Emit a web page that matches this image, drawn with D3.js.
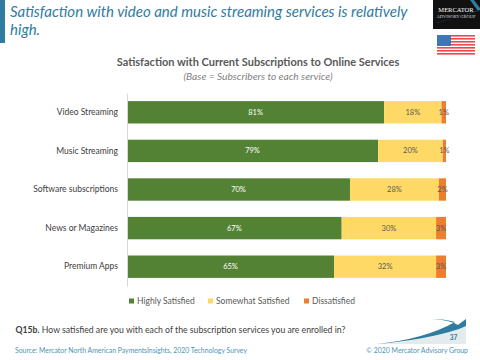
<!DOCTYPE html>
<html>
<head>
<meta charset="utf-8">
<script src="https://cdn.jsdelivr.net/npm/d3@7"></script>
<style>
    html, body { margin: 0; padding: 0; background: #fff; }
    svg { display: block; }
    text { font-family: Lato, "Open Sans", sans-serif; }
</style>
</head>
<body>
<div id="chart"></div>
<script>
const categories = ["Video Streaming", "Music Streaming", "Software subscriptions", "News or Magazines", "Premium Apps"];
const seriesNames = ["Highly Satisfied", "Somewhat Satisfied", "Dissatisfied"];
const highly = [80.6, 78.7, 69.9, 67.3, 64.9];
const somewhat = [18.0, 20.3, 27.9, 29.6, 32.0];
const dissatisfied = [1.4, 1.0, 2.2, 3.1, 3.1];
const colors = ["#548235", "#ffd966", "#ed7d31"];

const width = 480, height = 360;
const margin = { t: 93, l: 127, r: 34, b: 74 };

const svg = d3.select("#chart")
    .append("svg")
    .attr("width", width)
    .attr("height", height);

// slide header
svg.append("rect").attr("x", 0).attr("y", 0).attr("width", 5).attr("height", 43).attr("fill", "#2e7ca0");
svg.selectAll(".headline")
    .data(["Satisfaction with video and music streaming services is relatively", "high."])
    .join("text")
    .attr("class", "headline")
    .attr("x", 10)
    .attr("y", (d, i) => 17 + i * 18)
    .attr("font-size", 15)
    .attr("font-style", "italic")
    .attr("fill", "#2e7ca0")
    .text(d => d);

// chart titles
svg.append("text").attr("x", 258).attr("y", 66).attr("text-anchor", "middle")
    .attr("font-size", 11).attr("font-weight", 700).attr("fill", "#595959")
    .text("Satisfaction with Current Subscriptions to Online Services");
svg.append("text").attr("x", 258).attr("y", 80).attr("text-anchor", "middle")
    .attr("font-size", 10.2).attr("font-style", "italic").attr("fill", "#7f7f7f")
    .text("(Base = Subscribers to each service)");

// scales
const scaleX = d3.scaleLinear().domain([0, 100]).range([margin.l, width - margin.r]);
const scaleY = d3.scaleBand().domain(categories).range([margin.t, height - margin.b]).paddingInner(0.42).paddingOuter(0.21);

const rows = categories.map((c, i) => ({ c, vals: [highly[i], somewhat[i], dissatisfied[i]] }));
const stacked = seriesNames.map((name, s) => rows.map(r => {
    const x0 = d3.sum(r.vals.slice(0, s));
    return { c: r.c, x0, x1: x0 + r.vals[s], v: r.vals[s] };
}));

// bars
const groups = svg.selectAll(".series")
    .data(stacked)
    .join("g")
    .attr("class", "series")
    .attr("fill", (d, i) => colors[i]);

groups.selectAll("rect")
    .data(d => d)
    .join("rect")
    .attr("x", d => scaleX(d.x0))
    .attr("y", d => scaleY(d.c))
    .attr("width", d => scaleX(d.x1) - scaleX(d.x0))
    .attr("height", scaleY.bandwidth());

// value labels
groups.selectAll("text")
    .data(d => d)
    .join("text")
    .attr("x", d => scaleX((d.x0 + d.x1) / 2))
    .attr("y", d => scaleY(d.c) + scaleY.bandwidth() / 2 + 2.5)
    .attr("text-anchor", "middle")
    .attr("font-size", 7.5)
    .attr("fill", d => d.x0 === 0 ? "#fff" : "#595959")
    .text(d => `${Math.round(d.v)}%`);

// category axis
const axisY = d3.axisLeft(scaleY).tickSize(0).tickPadding(9);
const gAxis = svg.append("g")
    .attr("transform", `translate(${margin.l}, 0)`)
    .call(axisY);
gAxis.select(".domain").attr("stroke", "#d9d9d9");
gAxis.selectAll("text")
    .attr("font-size", 8.5)
    .attr("fill", "#404040")
    .style("font-family", "Lato, sans-serif");

// legend
const legendX = [129, 208, 304];
const legend = svg.selectAll(".legend")
    .data(seriesNames)
    .join("g")
    .attr("class", "legend")
    .attr("transform", (d, i) => `translate(${legendX[i]}, 298.5)`);
legend.append("rect").attr("width", 5).attr("height", 5).attr("fill", (d, i) => colors[i]);
legend.append("text").attr("x", 8).attr("y", 5.5).attr("font-size", 8.5).attr("fill", "#595959").text(d => d);

// question and footer
const question = svg.append("text").attr("x", 15.5).attr("y", 333).attr("font-size", 8.7).attr("fill", "#404040");
question.append("tspan").attr("font-weight", 700).text("Q15b.");
question.append("tspan").text(" How satisfied are you with each of the subscription services you are enrolled in?");
svg.append("text").attr("x", 15).attr("y", 353).attr("font-size", 6.85).attr("fill", "#4f93b5")
    .text("Source: Mercator North American PaymentsInsights, 2020 Technology Survey");
svg.append("text").attr("x", 468).attr("y", 353).attr("text-anchor", "end").attr("font-size", 6.9).attr("fill", "#4f93b5")
    .text("© 2020  Mercator Advisory Group");

// logo
svg.append("rect").attr("x", 433).attr("y", 0).attr("width", 47).attr("height", 29).attr("fill", "#111");
svg.append("path").attr("d", "M436 23 L478 11 L470 0 L474 0 L480 8 L480 10 L437 23 Z").attr("fill", "#2e7ca0");
svg.append("text").attr("x", 456).attr("y", 12).attr("text-anchor", "middle").attr("font-size", 6.5)
    .attr("fill", "#fff").style("font-family", "Liberation Serif").text("MERCATOR");
svg.append("text").attr("x", 456).attr("y", 17.5).attr("text-anchor", "middle").attr("font-size", 4.5)
    .attr("fill", "#ddd").style("font-family", "Liberation Serif").text("ADVISORY GROUP");

// flag
const stripes = d3.range(7);
svg.selectAll(".stripe")
    .data(stripes)
    .join("rect")
    .attr("class", "stripe")
    .attr("x", 437).attr("width", 38)
    .attr("y", d => 35 + d * 3)
    .attr("height", 1.6)
    .attr("fill", "#f0474f");
svg.append("rect").attr("x", 437).attr("y", 35).attr("width", 14).attr("height", 11).attr("fill", "#3f76b5");

// corner swoosh
svg.append("path").attr("d", "M377 344 Q430 342 466 319 L466 344 Z").attr("fill", "#e4ebef");
svg.append("path").attr("d", "M377 344 Q425 339 455 322 Q445 319 432 319 Q450 320 458 325 L466 319 L466 326 L459 329 Q425 340 377 344 Z").attr("fill", "#2e7ca0");
svg.append("text").attr("x", 453.5).attr("y", 340).attr("text-anchor", "middle").attr("font-size", 6.5).attr("font-weight", 700)
    .attr("fill", "#2e7ca0").text("37");
</script>
</body>
</html>
